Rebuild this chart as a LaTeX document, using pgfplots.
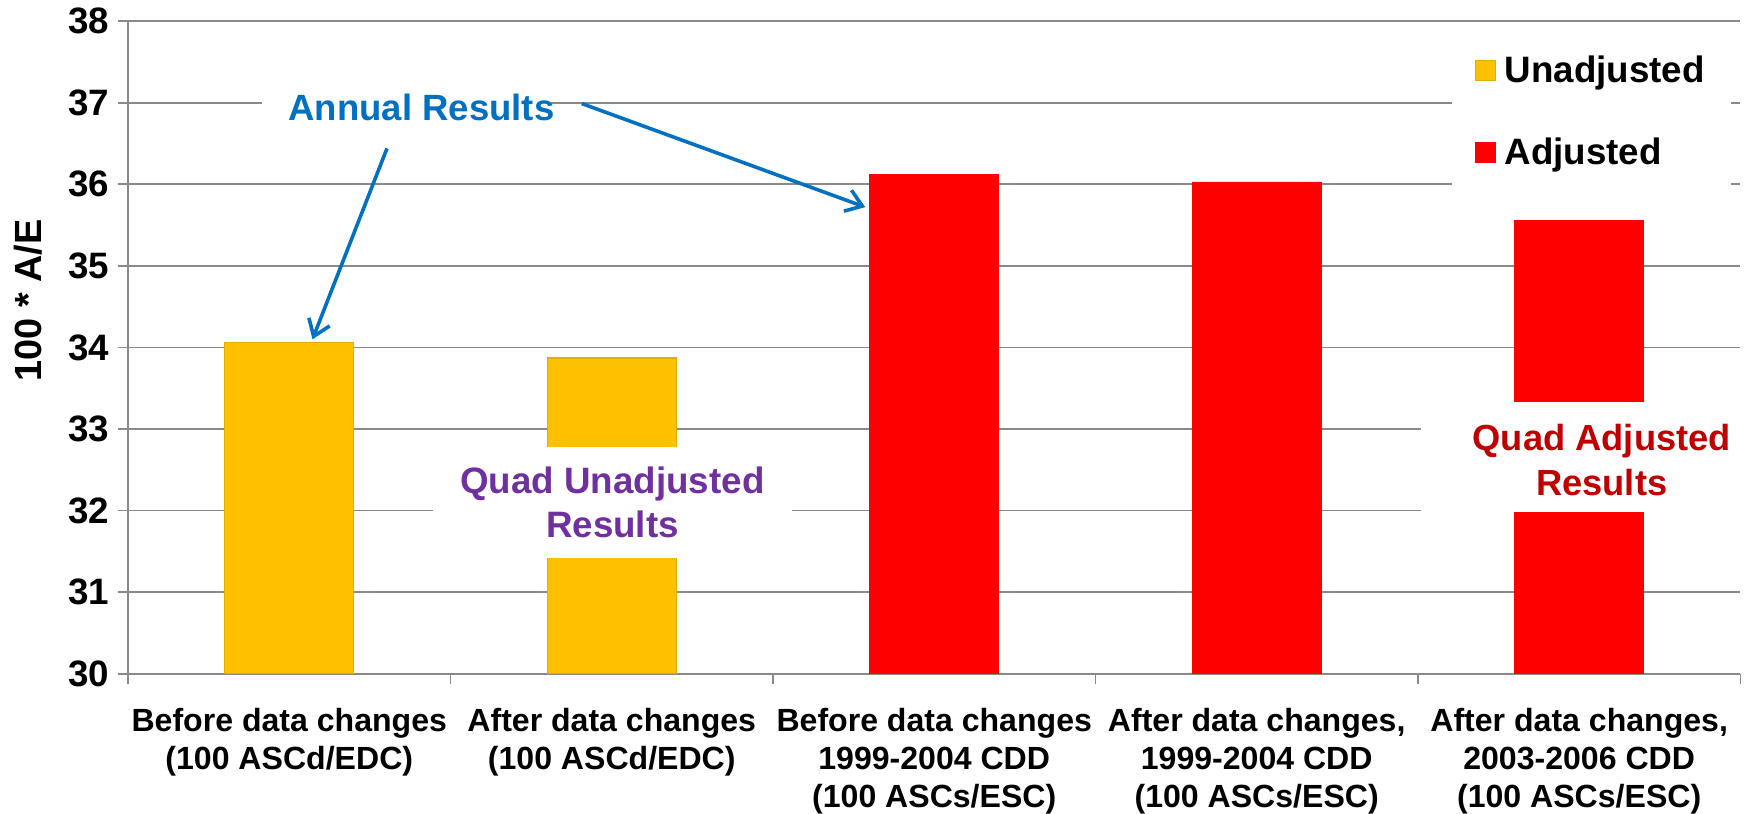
\documentclass[border=0pt]{standalone}
\usepackage{fontspec}
\setmainfont{Liberation Sans}
\usepackage{pgfplots}
\pgfplotsset{compat=1.18}
\usetikzlibrary{arrows.meta}
\definecolor{unadj}{HTML}{FFC000}
\definecolor{unadjedge}{HTML}{E3AE00}
\definecolor{adj}{HTML}{FF0000}
\definecolor{gridgray}{HTML}{898989}
\definecolor{annblue}{HTML}{0070C0}
\definecolor{quadpurple}{HTML}{7030A0}
\definecolor{quadred}{HTML}{C00000}

\begin{document}
\begin{tikzpicture}
\begin{axis}[
  name=ax,
  scale only axis,
  width=724pt, height=293pt,
  ybar, bar width=0.4, bar shift=0pt,
  xmin=-0.5, xmax=4.5,
  ymin=30, ymax=38,
  ytick={30,31,...,38},
  xtick={0,1,2,3,4},
  xticklabels={
    {Before data changes\\(100 ASCd/EDC)},
    {After data changes\\(100 ASCd/EDC)},
    {Before data changes\\1999-2004 CDD\\(100 ASCs/ESC)},
    {After data changes,\\1999-2004 CDD\\(100 ASCs/ESC)},
    {After data changes,\\2003-2006 CDD\\(100 ASCs/ESC)}},
  minor xtick={-0.5,0.5,1.5,2.5,3.5,4.5},
  major x tick style={draw=none},
  minor x tick style={draw=gridgray, line width=0.8pt},
  y tick style={draw=gridgray, line width=0.8pt},
  tick align=outside,
  major tick length=4.5pt,
  minor tick length=4.5pt,
  axis lines*=left,
  axis line style={draw=gridgray, line width=0.8pt},
  ymajorgrids,
  grid style={draw=gridgray, line width=0.8pt},
  /pgf/number format/assume math mode=true,
  yticklabel style={font=\fontsize{16.5}{19}\selectfont\bfseries, xshift=-0.5pt},
  xticklabel style={font=\fontsize{14.4}{17}\selectfont\bfseries, align=center, yshift=-7.5pt},
  ylabel={100 * A/E},
  ylabel style={font=\fontsize{17}{19}\selectfont\bfseries, at={(axis description cs:-0.062,0.572)}, anchor=center},
  legend image code/.code={\draw[#1] (0pt,-4.5pt) rectangle (9pt,4.5pt);},
  legend style={draw=none, fill=white, at={(0.821,0.996)}, anchor=north west,
    font=\fontsize{16.5}{19}\selectfont\bfseries, inner xsep=10pt, inner ysep=12pt,
    row sep=19.5pt, cells={anchor=west},
    /tikz/every odd column/.append style={column sep=2pt}},
]
\addplot[fill=unadj, draw=unadjedge, line width=0.5pt]
  coordinates {(0,34.06) (1,33.87)};
\addlegendentry{Unadjusted}
\addplot[fill=adj, draw=adj, line width=0.3pt]
  coordinates {(2,36.12) (3,36.03) (4,35.56)};
\addlegendentry{Adjusted}

% white text boxes that cover grid and bars
\fill[white] (axis cs:-0.086,36.7) rectangle (axis cs:0.81,37.25);
\fill[white] (axis cs:0.445,31.42) rectangle (axis cs:1.559,32.78);
\fill[white] (axis cs:3.51,31.98) rectangle (axis cs:4.62,33.33);
\node[text=annblue, inner sep=0pt, font=\fontsize{16.4}{19}\selectfont\bfseries]
  at (axis cs:0.41,36.94) {Annual Results};
\node[text=quadpurple, inner sep=0pt, align=center, font=\fontsize{16.5}{19.5}\selectfont\bfseries]
  at (axis cs:1.002,32.1) {Quad Unadjusted\\Results};
\node[text=quadred, inner sep=0pt, align=center, font=\fontsize{16.3}{20}\selectfont\bfseries]
  at (axis cs:4.07,32.62) {Quad Adjusted\\Results};
\draw[annblue, line width=1.6pt, -{Straight Barb[length=7pt,width=10pt]}]
  (axis cs:0.303,36.44) -- (axis cs:0.072,34.10);
\draw[annblue, line width=1.6pt, -{Straight Barb[length=7pt,width=10pt]}]
  (axis cs:0.907,36.99) -- (axis cs:1.786,35.72);
\end{axis}
\pgfresetboundingbox
\path ([shift={(-57.5pt,-63pt)}]ax.south west) rectangle ([shift={(2.5pt,9.5pt)}]ax.north east);
\end{tikzpicture}
\end{document}
